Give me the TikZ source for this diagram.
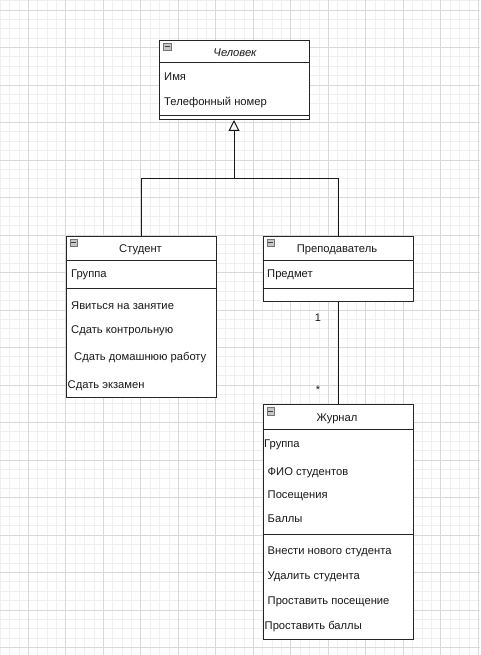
\documentclass[tikz,border=0pt]{standalone}
\usepackage{fontspec}
\setmainfont{Liberation Sans}
\usetikzlibrary{arrows.meta}
\begin{document}
\begin{tikzpicture}[x=1pt,y=-1pt,
  minorgrid/.style={draw=black!6,line width=0.8pt},
  majorgrid/.style={draw=black!15,line width=0.8pt},
  umlbox/.style={draw=black!85,line width=1pt,fill=white,rectangle,anchor=north west,minimum width=150pt,inner sep=0pt},
  sepline/.style={draw=black!85,line width=1pt},
  conn/.style={draw=black!90,line width=1pt},
  txt/.style={anchor=mid west,inner sep=0pt,yshift=-1.7pt,font=\fontsize{11.2}{13}\selectfont,text=black!90},
  ttl/.style={anchor=mid,inner sep=0pt,yshift=-1.7pt,font=\fontsize{11.2}{13}\selectfont,text=black!90},
  mult/.style={anchor=mid,inner sep=0pt,yshift=-1.5pt,font=\fontsize{11}{13}\selectfont,text=black!90},
  icon/.style={draw=black!55,fill=black!22,line width=0.6pt,rectangle,minimum size=7.5pt,inner sep=0pt,anchor=north west}
]
\useasboundingbox (0,0) rectangle (480,655);
\fill[white] (0,0) rectangle (480,655);
% grid
\foreach \i in {0,...,51} \draw[minorgrid] ({0.2+9.375*\i},0) -- ({0.2+9.375*\i},655);
\foreach \i in {0,...,69} \draw[minorgrid] (0,{0.625+9.375*\i}) -- (480,{0.625+9.375*\i});
\foreach \i in {0,...,12} \draw[majorgrid] ({28.3+37.5*\i},0) -- ({28.3+37.5*\i},655);
\foreach \i in {0,...,17} \draw[majorgrid] (0,{10+37.5*\i}) -- (480,{10+37.5*\i});

% Человек
\node[umlbox,minimum height=79pt] (chel) at (159,40) {};
\draw[sepline] (159,63) -- (309,63);
\draw[sepline] (159,116) -- (309,116);
\node[icon] (chelicon) at (163,42.7) {};
\draw[black!75,line width=1pt] (164.5,46.7) -- (169.5,46.7);
\node[ttl,font=\fontsize{11.2}{13}\selectfont\itshape] (cheltitle) at (235,52.5) {Человек};
\node[txt] (chela1) at (164,76) {Имя};
\node[txt] (chela2) at (164,101) {Телефонный номер};

% Студент
\node[umlbox,minimum height=160.7pt] (stud) at (65.5,236) {};
\draw[sepline] (65.5,260.7) -- (215.5,260.7);
\draw[sepline] (65.5,288.7) -- (215.5,288.7);
\node[icon] (studicon) at (69.5,238.7) {};
\draw[black!75,line width=1pt] (71,242.7) -- (76,242.7);
\node[ttl] (studtitle) at (140.5,248) {Студент};
\node[txt] (studa1) at (71,273) {Группа};
\node[txt] (studm1) at (71,305) {Явиться на занятие};
\node[txt] (studm2) at (71,329) {Сдать контрольную};
\node[txt] (studm3) at (74,356) {Сдать домашнюю работу};
\node[txt] (studm4) at (67.5,384) {Сдать экзамен};

% Преподаватель
\node[umlbox,minimum height=65.3pt] (prep) at (262.5,236) {};
\draw[sepline] (262.5,260.7) -- (412.5,260.7);
\draw[sepline] (262.5,288.7) -- (412.5,288.7);
\node[icon] (prepicon) at (266.5,238.7) {};
\draw[black!75,line width=1pt] (268,242.7) -- (273,242.7);
\node[ttl] (preptitle) at (337,248) {Преподаватель};
\node[txt] (prepa1) at (267,273) {Предмет};

% Журнал
\node[umlbox,minimum height=234.4pt] (jour) at (262.5,404.3) {};
\draw[sepline] (262.5,429.3) -- (412.5,429.3);
\draw[sepline] (262.5,534.7) -- (412.5,534.7);
\node[icon] (jouricon) at (266.5,407) {};
\draw[black!75,line width=1pt] (268,411) -- (273,411);
\node[ttl] (jourtitle) at (337,416.7) {Журнал};
\node[txt] (joura1) at (264,443) {Группа};
\node[txt] (joura2) at (267.5,470.7) {ФИО студентов};
\node[txt] (joura3) at (267.5,494) {Посещения};
\node[txt] (joura4) at (267.5,518) {Баллы};
\node[txt] (jourm1) at (267.5,550) {Внести нового студента};
\node[txt] (jourm2) at (267.5,575) {Удалить студента};
\node[txt] (jourm3) at (267.5,600) {Проставить посещение};
\node[txt] (jourm4) at (264.5,625.3) {Проставить баллы};

% inheritance
\coordinate (junc) at (234,178);
\draw[conn] (prep.north) |- (junc);
\draw[conn,-{Triangle[open,length=11pt,width=11pt,line width=1pt]}] (stud.north) |- (junc) -- (chel.south -| junc);

% association
\draw[conn] (prep.south) -- (jour.north);
\node[mult] (m1) at (318,317) {1};
\node[mult] (m2) at (318,389) {*};
\end{tikzpicture}
\end{document}
